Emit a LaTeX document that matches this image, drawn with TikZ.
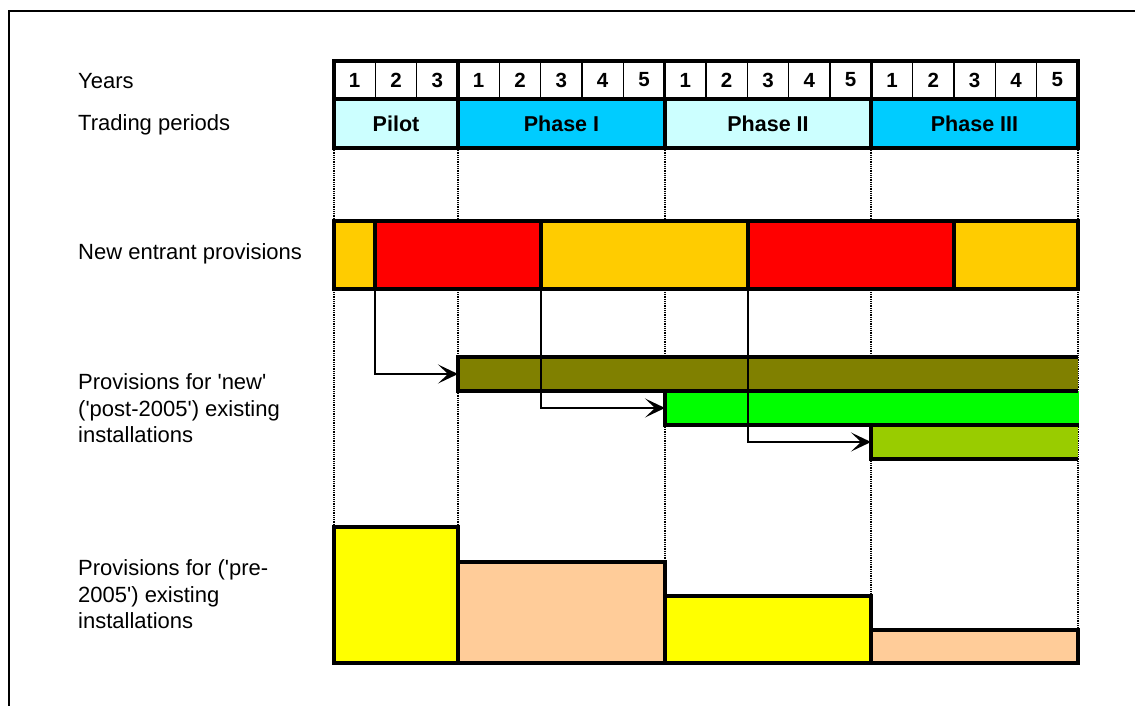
\documentclass[tikz,border=0pt]{standalone}
\usepackage{fontspec}
\setmainfont{Liberation Sans}
\usepackage{xcolor}
\usetikzlibrary{arrows.meta,positioning}
\tikzset{>=Stealth}

\definecolor{lightcyan}{HTML}{CCFFFF}
\definecolor{skycyan}{HTML}{00CCFF}
\definecolor{neorange}{HTML}{FFCC00}
\definecolor{nered}{HTML}{FF0000}
\definecolor{barolive}{HTML}{808000}
\definecolor{bargreen}{HTML}{00FF00}
\definecolor{barlime}{HTML}{99CC00}
\definecolor{preyellow}{HTML}{FFFF00}
\definecolor{prepeach}{HTML}{FFCC99}

\begin{document}
\begin{tikzpicture}[
    x=1pt, y=-1pt,
    cell/.style={anchor=north west, inner sep=0pt, outer sep=0pt},
    yearcell/.style={cell, draw, line width=1.5pt, fill=white,
        minimum width=41.333pt, minimum height=38pt,
        font=\bfseries\fontsize{20.5}{20.5}\selectfont},
    period/.style={cell, draw, line width=3.3pt, minimum height=49pt,
        font=\bfseries\fontsize{21.5}{21.5}\selectfont},
    frame/.style={line width=3.3pt},
    segment/.style={cell, draw, line width=3.3pt, minimum height=68pt},
    bar/.style={cell, minimum height=34pt},
    pre/.style={cell, draw, line width=3.3pt},
    guide/.style={line width=1.5pt, dash pattern=on 1pt off 0.8pt},
    link/.style={->, line width=1.6pt, >={Stealth[length=20pt, width=19pt, inset=10pt]}},
    lbl/.style={anchor=west, align=left, inner sep=0pt,
        font=\fontsize{22}{26.5}\selectfont}
]
    \useasboundingbox (0,0) rectangle (1135,706);
    \draw[line width=2pt] (9,706) -- (9,11) -- (1135,11);

    % row labels
    \node[lbl] (lyears) at (78,81) {Years};
    \node[lbl] (lperiods) at (78,125) {Trading periods};
    \node[lbl] (lentrant) at (78,254) {New entrant provisions};
    \node[lbl] (lnew) at (78,408.5) {Provisions for \textquotesingle new\textquotesingle\\(\textquotesingle post-2005\textquotesingle) existing\\installations};
    \node[lbl] (lpre) at (78,594.5) {Provisions for (\textquotesingle pre-\\2005\textquotesingle) existing\\installations};

    % years
    \foreach \i/\n in {0/1,1/2,2/3,3/1,4/2,5/3,6/4,7/5,8/1,9/2,10/3,11/4,12/5,13/1,14/2,15/3,16/4,17/5}
        \node[yearcell] (yr\i) at ({334+41.333*\i},61) {\n};

    % trading periods
    \node[period, fill=lightcyan, minimum width=124pt] (pilot) at (334,99) {Pilot};
    \node[period, fill=skycyan, minimum width=207pt] (phase1) at (458,99) {Phase I};
    \node[period, fill=lightcyan, minimum width=206pt] (phase2) at (665,99) {Phase II};
    \node[period, fill=skycyan, minimum width=207pt] (phase3) at (871,99) {Phase III};
    \draw[frame] (yr0.north west) rectangle (yr2.south east);
    \draw[frame] (yr3.north west) rectangle (yr7.south east);
    \draw[frame] (yr8.north west) rectangle (yr12.south east);
    \draw[frame] (yr13.north west) rectangle (yr17.south east);

    % pre-2005 provisions
    \node[pre, fill=preyellow, minimum width=124pt, minimum height=136pt] (pre1) at (334,527) {};
    \node[pre, fill=prepeach, minimum width=207pt, minimum height=101pt] (pre2) at (458,562) {};
    \node[pre, fill=preyellow, minimum width=206pt, minimum height=67pt] (pre3) at (665,596) {};
    \node[pre, fill=prepeach, minimum width=207pt, minimum height=33pt] (pre4) at (871,630) {};

    % period guides
    \draw[guide] (pilot.south west) -- (pre1.north west);
    \draw[guide] (pilot.south east) -- (pre1.north east);
    \draw[guide] (phase1.south east) -- (pre2.north east);
    \draw[guide] (phase2.south east) -- (pre3.north east);
    \draw[guide] (phase3.south east) -- (pre4.north east);

    % new entrant provisions
    \node[segment, fill=neorange, minimum width=41pt] (ne1) at (334,221) {};
    \node[segment, fill=nered, minimum width=166pt] (ne2) at (375,221) {};
    \node[segment, fill=neorange, minimum width=207pt] (ne3) at (541,221) {};
    \node[segment, fill=nered, minimum width=206pt] (ne4) at (748,221) {};
    \node[segment, fill=neorange, minimum width=124pt] (ne5) at (954,221) {};

    % post-2005 provisions
    \node[bar, fill=barolive, minimum width=620pt] (olive) at (458,357) {};
    \node[bar, fill=bargreen, minimum width=414pt] (green) at (665,391) {};
    \node[bar, fill=barlime, minimum width=207pt] (lime) at (871,425) {};
    \draw[frame] (olive.north east) -- (olive.north west) -- (olive.south west) -- (olive.south east);
    \draw[frame] (green.south east) -- (green.south west) -- (green.north west);
    \draw[frame] (lime.north west) -- (lime.south west) -- (lime.south east);

    \draw[link] (ne2.south west) |- (olive.west);
    \draw[link] (ne3.south west) |- (green.west);
    \draw[link] (ne4.south west) |- (lime.west);
\end{tikzpicture}
\end{document}
